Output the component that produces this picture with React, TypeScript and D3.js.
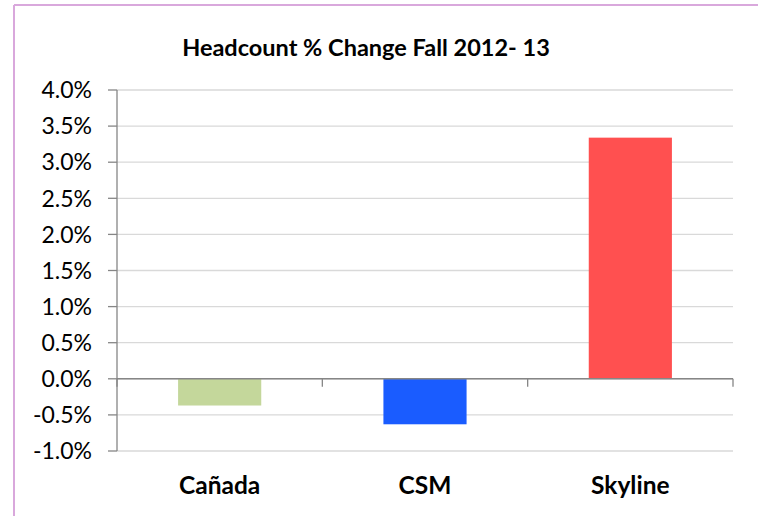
import React from 'react';
import * as d3 from 'd3';

const categories = ['Cañada', 'CSM', 'Skyline'];
const changes = [-0.37, -0.63, 3.34];
const colors = ['#C4D79B', '#1A5CFF', '#FF5050'];
const yTicks = [-1.0, -0.5, 0.0, 0.5, 1.0, 1.5, 2.0, 2.5, 3.0, 3.5, 4.0];
const title = 'Headcount % Change Fall 2012- 13';

const W = 758;
const H = 516;
const plot = { left: 117, right: 733, top: 90, bottom: 451 };
const font = 'Lato, "Open Sans", sans-serif';

const App = () => {
  const x = d3.scaleBand<string>().domain(categories).range([plot.left, plot.right]);
  const y = d3.scaleLinear().domain([-1, 4]).range([plot.bottom, plot.top]);
  const barW = x.bandwidth() * 0.405;
  const y0 = y(0);

  return (
    <div style={{ position: 'absolute', left: 0, top: 0 }}>
      <svg width={W} height={H} style={{ display: 'block' }}>
        <rect width={W} height={H} fill="#fff" />
        <line x1={14} y1={5} x2={W} y2={5} stroke="#D9A8DC" strokeWidth={2} />
        <line x1={14} y1={5} x2={14} y2={H} stroke="#D9A8DC" strokeWidth={2} />

        <text x={366} y={56} textAnchor="middle" fontFamily={font} fontWeight="bold" fontSize={23.5} fill="#000">
          {title}
        </text>

        {yTicks.map(t => (
          <g key={t}>
            <line x1={plot.left} x2={plot.right} y1={y(t)} y2={y(t)} stroke="#D9D9D9" strokeWidth={1.3} />
            <line x1={108} x2={plot.left} y1={y(t)} y2={y(t)} stroke="#868686" strokeWidth={1.3} />
            <text x={92} y={y(t)} dy="0.36em" textAnchor="end" fontFamily={font} fontSize={23} fill="#000">
              {d3.format('.1f')(t).replace('−', '-') + '%'}
            </text>
          </g>
        ))}

        {categories.map((c, i) => {
          const v = changes[i];
          const cx = (x(c) as number) + x.bandwidth() / 2;
          return (
            <rect
              key={c}
              x={cx - barW / 2}
              y={Math.min(y(v), y0)}
              width={barW}
              height={Math.abs(y(v) - y0)}
              fill={colors[i]}
            />
          );
        })}

        <line x1={plot.left} x2={plot.left} y1={plot.top} y2={plot.bottom} stroke="#868686" strokeWidth={1.3} />
        <line x1={plot.left} x2={plot.right} y1={y0} y2={y0} stroke="#868686" strokeWidth={1.6} />
        {[...categories.map(c => x(c) as number), plot.right].map((px, i) => (
          <line key={i} x1={px} x2={px} y1={y0} y2={y0 + 8} stroke="#868686" strokeWidth={1.3} />
        ))}

        {categories.map(c => (
          <text
            key={c}
            x={(x(c) as number) + x.bandwidth() / 2}
            y={494}
            textAnchor="middle"
            fontFamily={font}
            fontWeight="bold"
            fontSize={24.5}
            fill="#000"
          >
            {c}
          </text>
        ))}
      </svg>
    </div>
  );
};

export default App;
